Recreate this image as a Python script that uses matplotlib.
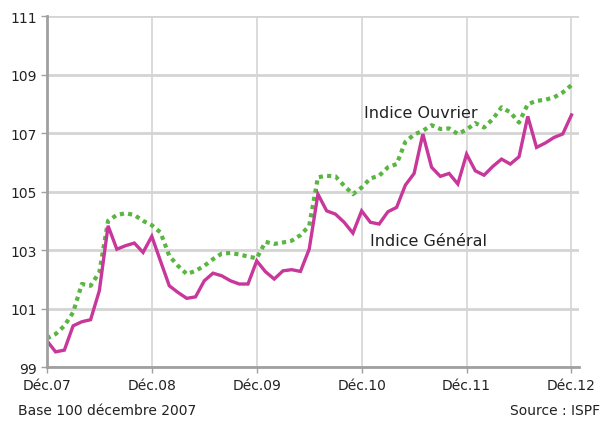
import matplotlib
matplotlib.use("Agg")
import matplotlib.pyplot as plt

# monthly index values, Dec 2007 -> Dec 2012 (61 months)
indice_general = [
    99.90, 99.52, 99.58, 100.41, 100.55, 100.62, 101.61, 103.83, 103.03, 103.15,
    103.24, 102.92, 103.47, 102.62, 101.78, 101.55, 101.35, 101.40, 101.95, 102.21,
    102.12, 101.95, 101.84, 101.84, 102.63, 102.26, 102.01, 102.29, 102.33, 102.27,
    103.03, 104.91, 104.34, 104.23, 103.95, 103.58, 104.34, 103.95, 103.89, 104.31,
    104.46, 105.22, 105.62, 106.97, 105.83, 105.52, 105.62, 105.26, 106.28, 105.71,
    105.56, 105.86, 106.11, 105.94, 106.19, 107.57, 106.51, 106.66, 106.85, 106.97,
    107.62,
]
indice_ouvrier = [
    99.98, 100.13, 100.41, 100.87, 101.84, 101.78, 102.24, 104.00, 104.20, 104.26,
    104.20, 104.00, 103.85, 103.60, 102.80, 102.46, 102.18, 102.29, 102.46, 102.69,
    102.88, 102.90, 102.85, 102.78, 102.72, 103.28, 103.21, 103.26, 103.32, 103.51,
    103.83, 105.49, 105.54, 105.52, 105.20, 104.91, 105.14, 105.45, 105.54, 105.83,
    105.94, 106.70, 106.95, 107.08, 107.27, 107.14, 107.16, 106.97, 107.12, 107.34,
    107.19, 107.48, 107.88, 107.71, 107.36, 107.99, 108.10, 108.14, 108.22, 108.39,
    108.64,
]
months = list(range(len(indice_general)))

year_ticks = [0, 12, 24, 36, 48, 60]
year_labels = ["Déc.07", "Déc.08", "Déc.09", "Déc.10", "Déc.11", "Déc.12"]
y_ticks = [99, 101, 103, 105, 107, 109, 111]

fig = plt.figure(figsize=(6.01, 4.27), dpi=100)
ax = fig.add_axes([0.078, 0.138, 0.886, 0.822])

ax.plot(months, indice_ouvrier, color="#5bb543", linestyle=(0, (1, 1)), linewidth=3.0)
ax.plot(months, indice_general, color="#c8379a", linewidth=2.4, solid_joinstyle="miter")

ax.set_xlim(0, 60.9)
ax.set_ylim(99, 111)
ax.set_xticks(year_ticks)
ax.set_xticklabels(year_labels)
ax.set_yticks(y_ticks)

# grid: heavier horizontal, thin vertical
ax.grid(axis="y", color="#d4d4d4", linewidth=2.0)
ax.grid(axis="x", color="#d4d4d4", linewidth=1.2)
ax.set_axisbelow(True)

for side in ["top", "right"]:
    ax.spines[side].set_visible(False)
for side in ["left", "bottom"]:
    ax.spines[side].set_color("#a0a0a0")
    ax.spines[side].set_linewidth(2.0)

ax.tick_params(axis="both", colors="#a0a0a0", labelcolor="#222222", labelsize=10, length=4, width=1)
ax.tick_params(axis="x", pad=4)
ax.tick_params(axis="y", pad=3)

ax.text(36.3, 107.72, "Indice Ouvrier", fontsize=11.5, color="#222222", va="center")
ax.text(36.9, 103.34, "Indice Général", fontsize=11.5, color="#222222", va="center")

fig.text(0.03, 0.028, "Base 100 décembre 2007", fontsize=10, color="#222222")
fig.text(0.848, 0.028, "Source : ISPF", fontsize=10, color="#222222")

fig.savefig("out.png", dpi=100)
